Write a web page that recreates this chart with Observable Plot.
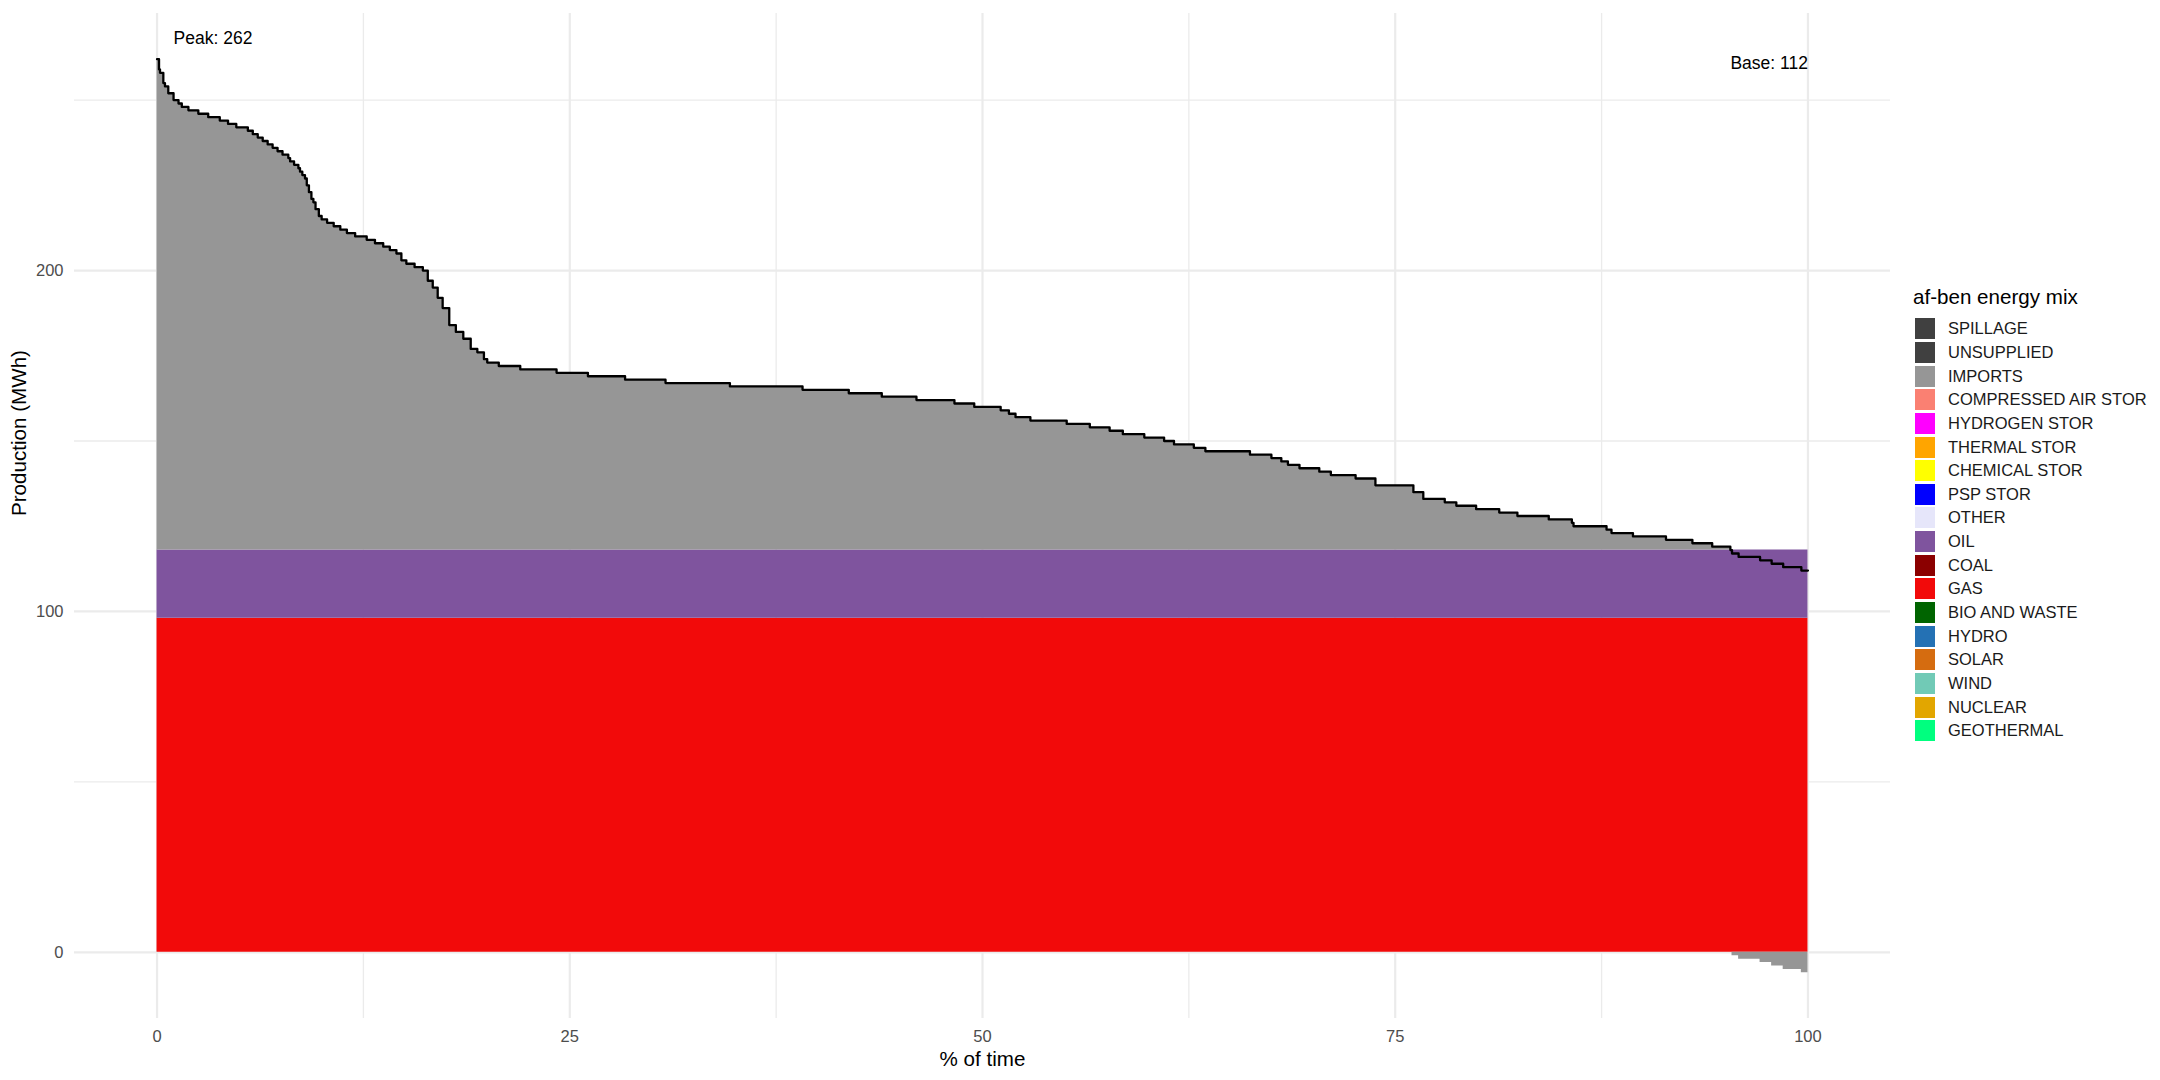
<!DOCTYPE html>
<html>
<head>
<meta charset="utf-8">
<script src="https://cdn.jsdelivr.net/npm/d3@7"></script>
<script src="https://cdn.jsdelivr.net/npm/@observablehq/plot@0.6"></script>
<style>
  html, body { margin: 0; padding: 0; background: #fff; }
  #chart { position: relative; width: 2160px; height: 1080px; font-family: "Liberation Sans", Arial, sans-serif; }
  #chart svg { position: absolute; left: 0; top: 0; }
  .legend { position: absolute; left: 1913px; top: 284px; color: #000; }
  .legend-title { font-size: 20.6px; line-height: 26px; height: 26px; }
  .legend-items { margin-top: 7px; }
  .legend-item { display: flex; align-items: center; height: 23.65px; }
  .legend-swatch { width: 20px; height: 21px; margin-left: 2px; flex: none; }
  .legend-label { margin-left: 13px; font-size: 16.5px; color: #1a1a1a; white-space: nowrap; }
</style>
</head>
<body>
<div id="chart"></div>
<script>
// Legend entries (top to bottom) and their fills.
const sources = [
  "SPILLAGE", "UNSUPPLIED", "IMPORTS", "COMPRESSED AIR STOR", "HYDROGEN STOR",
  "THERMAL STOR", "CHEMICAL STOR", "PSP STOR", "OTHER", "OIL", "COAL", "GAS",
  "BIO AND WASTE", "HYDRO", "SOLAR", "WIND", "NUCLEAR", "GEOTHERMAL"
];
const sourceColors = [
  "#404040", "#404040", "#969696", "#fa8072", "#ff00ff",
  "#ffa500", "#ffff00", "#0000ff", "#e6e6fa", "#7f549e", "#8b0000", "#f20a0a",
  "#006400", "#2471b4", "#d56c10", "#71cab6", "#e2a600", "#00ff7f"
];

// Load duration curve: % of time where each load level starts (step-after).
const pctTime = [
  0, 0.12, 0.18, 0.38, 0.48, 0.68, 1.0, 1.3, 1.5, 1.9,
  2.5, 3.1, 3.8, 4.3, 4.8, 5.5, 5.8, 6.1, 6.4, 6.7,
  7.0, 7.3, 7.6, 7.95, 8.06, 8.3, 8.56, 8.66, 8.8, 8.96,
  9.07, 9.2, 9.35, 9.47, 9.6, 9.8, 9.97, 10.3, 10.7, 11.1,
  11.5, 12.0, 12.7, 13.2, 13.7, 14.1, 14.5, 14.8, 15.1, 15.6,
  16.1, 16.4, 16.7, 17.0, 17.3, 17.7, 18.1, 18.55, 19.0, 19.4,
  19.8, 20.0, 20.7, 22.0, 24.2, 26.1, 28.35, 30.8, 34.7, 39.1,
  41.9, 43.9, 46.0, 48.3, 49.5, 51.1, 51.6, 52.0, 52.9, 55.1,
  56.5, 57.7, 58.5, 59.8, 61.0, 61.6, 62.8, 63.5, 66.2, 67.5,
  68.1, 68.5, 69.2, 70.4, 71.1, 72.6, 73.8, 76.1, 76.7, 78.0,
  78.7, 79.9, 81.3, 82.4, 84.3, 85.7, 85.8, 87.8, 88.1, 89.4,
  91.4, 93.0, 94.2, 95.3, 95.4, 95.8, 97.1, 97.8, 98.5, 99.6,
  100
];
const loadMWh = [
  262, 259, 258, 255, 254, 252, 250, 249, 248, 247,
  246, 245, 244, 243, 242, 241, 240, 239, 238, 237,
  236, 235, 234, 233, 232, 231, 230, 229, 228, 227,
  225, 223, 221, 220, 218, 216, 215, 214, 213, 212,
  211, 210, 209, 208, 207, 206, 205, 203, 202, 201,
  200, 197, 195, 192, 189, 184, 182, 180, 177, 176,
  174, 173, 172, 171, 170, 169, 168, 167, 166, 165,
  164, 163, 162, 161, 160, 159, 158, 157, 156, 155,
  154, 153, 152, 151, 150, 149, 148, 147, 146, 145,
  144, 143, 142, 141, 140, 139, 137, 135, 133, 132,
  131, 130, 129, 128, 127, 126, 125, 124, 123, 122,
  121, 120, 119, 118, 117, 116, 115, 114, 113, 112,
  112
];

// Flat generation blocks; imports cover the rest of the load.
const gasMWh = 98;
const oilMWh = 20;

const xMajorTicks = [0, 25, 50, 75, 100];
const xMinorTicks = [12.5, 37.5, 62.5, 87.5];
const yMajorTicks = [0, 100, 200];
const yMinorTicks = [50, 150, 250];

// Long format for the stack: gas at the bottom, then oil, then imports
// (negative imports stack below zero on their own).
const stackRows = [];
pctTime.forEach(function (p, i) {
  stackRows.push({ pct: p, source: "GAS", value: gasMWh });
  stackRows.push({ pct: p, source: "OIL", value: oilMWh });
  stackRows.push({ pct: p, source: "IMPORTS", value: loadMWh[i] - gasMWh - oilMWh });
});
const loadRows = pctTime.map(function (p, i) { return { pct: p, load: loadMWh[i] }; });

const peak = d3.max(loadMWh);
const base = d3.min(loadMWh);

const font = '"Liberation Sans", Arial, sans-serif';
const grid = "#ebebeb";

const svg = Plot.plot({
  width: 1900,
  height: 1080,
  marginLeft: 74,
  marginRight: 10,
  marginTop: 13,
  marginBottom: 62,
  style: { background: "transparent", fontFamily: font, color: "#4d4d4d", overflow: "visible" },
  x: { domain: [-5, 105] },
  y: { domain: [-19.4, 275.4] },
  color: { domain: sources, range: sourceColors },
  marks: [
    Plot.gridX(xMinorTicks, { stroke: grid, strokeOpacity: 1, strokeWidth: 1.3 }),
    Plot.gridX(xMajorTicks, { stroke: grid, strokeOpacity: 1, strokeWidth: 2.2 }),
    Plot.gridY(yMinorTicks, { stroke: grid, strokeOpacity: 1, strokeWidth: 1.3 }),
    Plot.gridY(yMajorTicks, { stroke: grid, strokeOpacity: 1, strokeWidth: 2.2 }),
    Plot.areaY(stackRows, Plot.stackY({
      x: "pct",
      y: "value",
      fill: "source",
      order: ["GAS", "OIL", "IMPORTS"],
      curve: "step-after"
    })),
    Plot.line(loadRows, {
      x: "pct", y: "load", curve: "step-after",
      stroke: "#000", strokeWidth: 2.3
    }),
    Plot.text([peak], {
      x: 1, y: function (d) { return d * 1.023; },
      text: function (d) { return "Peak: " + d; },
      textAnchor: "start", fill: "#000", fontSize: 17.5
    }),
    Plot.text([base], {
      x: 100, y: function () { return peak * 0.995; },
      text: function (d) { return "Base: " + d; },
      textAnchor: "end", fill: "#000", fontSize: 17.5
    }),
    Plot.axisX(xMajorTicks, {
      tickSize: 0, tickPadding: 12, fontSize: 16.5, fill: "#4d4d4d", label: null
    }),
    Plot.axisY(yMajorTicks, {
      tickSize: 0, tickPadding: 11, fontSize: 16.5, fill: "#4d4d4d", label: null
    }),
    Plot.text(["% of time"], {
      frameAnchor: "bottom", dy: 41, text: function (d) { return d; },
      fill: "#000", fontSize: 20.6, lineAnchor: "middle"
    }),
    Plot.text(["Production (MWh)"], {
      frameAnchor: "left", dx: -55, rotate: -90, text: function (d) { return d; },
      fill: "#000", fontSize: 20.6
    })
  ]
});

const chart = document.getElementById("chart");
chart.appendChild(svg);

// ---- HTML legend to the right of the panel ----
const legend = document.createElement("div");
legend.className = "legend";
const title = document.createElement("div");
title.className = "legend-title";
title.textContent = "af-ben energy mix";
legend.appendChild(title);
const items = document.createElement("div");
items.className = "legend-items";
sources.forEach(function (name, i) {
  const row = document.createElement("div");
  row.className = "legend-item";
  const sw = document.createElement("span");
  sw.className = "legend-swatch";
  sw.style.background = sourceColors[i];
  const lbl = document.createElement("span");
  lbl.className = "legend-label";
  lbl.textContent = name;
  row.appendChild(sw);
  row.appendChild(lbl);
  items.appendChild(row);
});
legend.appendChild(items);
chart.appendChild(legend);
</script>
</body>
</html>
